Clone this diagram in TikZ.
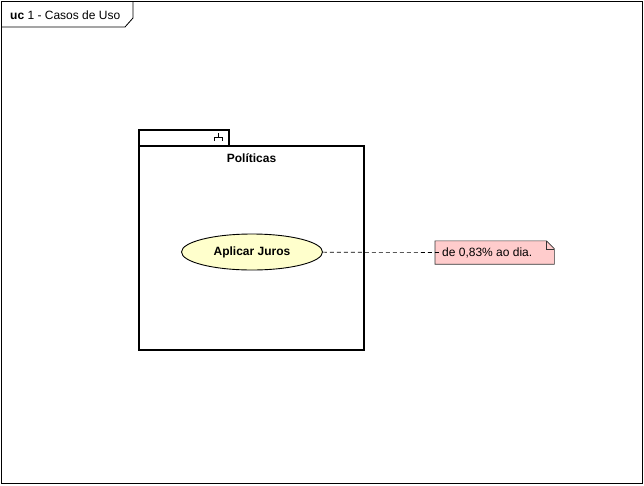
\documentclass[tikz,border=0pt]{standalone}
\usepackage{fontspec}
\setmainfont{Liberation Sans}
\usetikzlibrary{positioning,shapes.geometric}
\definecolor{ucyellow}{HTML}{FFFFCC}
\definecolor{notepink}{HTML}{FFCCCC}
\definecolor{linegray}{HTML}{333333}

\begin{document}
\begin{tikzpicture}[x=1pt,y=-1pt,every node/.style={font=\fontsize{12}{14}\selectfont}]
\useasboundingbox (0,0) rectangle (644,485);
% frame
\draw[line width=0.8pt] (1,1) rectangle (642,483);
\draw[line width=0.8pt] (1,27) -- (125,27) -- (133,18) -- (133,1);
\node[anchor=west,inner sep=0pt] (title) at (10,15) {\textbf{uc} 1 - Casos de Uso};
% package
\draw[line width=1.2pt] (139,146) rectangle (364,350);
\draw[line width=1.2pt] (139,146) rectangle (229,130);
\draw[line width=0.6pt] (214,141) -- (214,137) -- (222,137) -- (222,141) (218,137) -- (218,133);
\node[font=\fontsize{12}{14}\selectfont\bfseries] (pkg) at (251.5,158) {Políticas};
% use case and note
\node[ellipse,draw=black,line width=0.9pt,fill=ucyellow,minimum width=141pt,minimum height=36pt,font=\fontsize{12}{14}\selectfont\bfseries] (juros) at (252,252) {Aplicar Juros};
\node[minimum width=119pt,minimum height=23pt,anchor=west] (nota) at (435,252.5) {};
\filldraw[draw=linegray,fill=notepink,line width=0.6pt] (nota.south west) -- (nota.north west) -- ([xshift=-8pt]nota.north east) -- ([yshift=-8pt]nota.north east) -- (nota.south east) -- cycle;
\draw[linegray,line width=0.6pt] ([xshift=-8pt]nota.north east) -- ([xshift=-8pt,yshift=-8pt]nota.north east) -- ([yshift=-8pt]nota.north east);
\node[anchor=west,inner sep=1pt] (notatxt) at ([xshift=6pt]nota.west) {de 0,83\% ao dia.};
\draw[dashed,dash pattern=on 4pt off 3pt,line width=0.6pt] (juros) -- (notatxt.west);
\end{tikzpicture}
\end{document}
